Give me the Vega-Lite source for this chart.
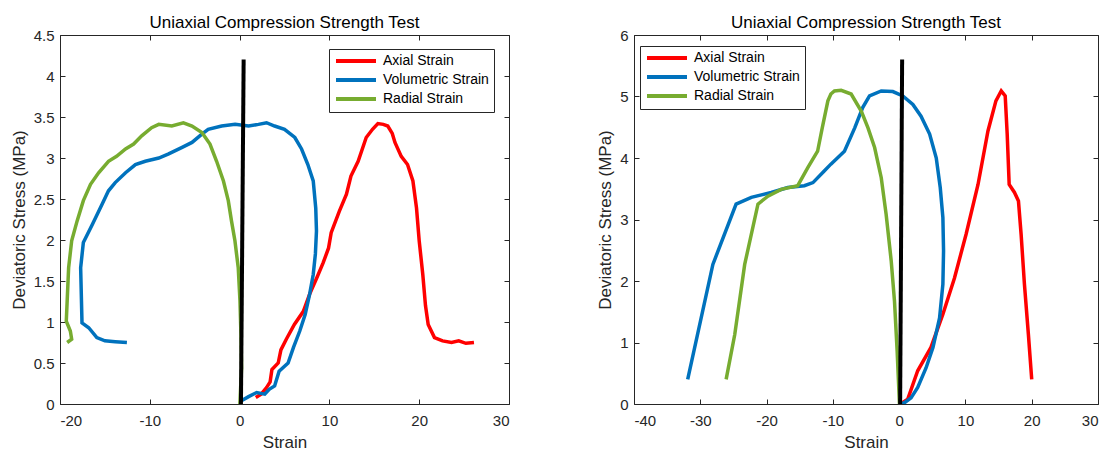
{
  "$schema": "https://vega.github.io/schema/vega-lite/v6.json",
  "padding": {"left": 9, "top": 13, "right": 0, "bottom": 0},
  "config": {
    "font": "Liberation Sans",
    "locale": {"number": {"decimal": ".", "thousands": ",", "grouping": [3], "currency": ["$", ""], "minus": "-"}},
    "view": {"stroke": "#262626", "strokeWidth": 1},
    "axis": {
      "grid": false, "domain": false, "tickSize": -5, "tickColor": "#262626", "tickWidth": 1,
      "labelColor": "#262626", "titleColor": "#262626", "labelFontSize": 15, "titleFontSize": 17,
      "titleFontWeight": "normal", "labelFont": "Liberation Sans", "titleFont": "Liberation Sans"
    },
    "axisX": {"labelPadding": 14, "titlePadding": 6},
    "axisY": {"labelPadding": 11},
    "title": {"fontSize": 17, "fontWeight": "normal", "color": "#000000", "offset": -4, "font": "Liberation Sans"},
    "legend": {
      "symbolType": "M-1,0H7", "symbolSize": 100, "symbolStrokeWidth": 4, "labelFontSize": 14,
      "labelColor": "#000000", "strokeColor": "#262626", "fillColor": "white", "padding": 5,
      "rowPadding": 3, "labelOffset": 35, "symbolOffset": 0, "cornerRadius": 0, "labelFont": "Liberation Sans"
    }
  },
  "datasets": {
    "left": [
      {"series": "Axial Strain", "i": 1, "strain": 1.8, "stress": 0.08},
      {"series": "Axial Strain", "i": 2, "strain": 2.4, "stress": 0.12},
      {"series": "Axial Strain", "i": 3, "strain": 3.0, "stress": 0.2},
      {"series": "Axial Strain", "i": 4, "strain": 3.4, "stress": 0.27},
      {"series": "Axial Strain", "i": 5, "strain": 3.6, "stress": 0.42},
      {"series": "Axial Strain", "i": 6, "strain": 4.3, "stress": 0.5},
      {"series": "Axial Strain", "i": 7, "strain": 4.6, "stress": 0.66},
      {"series": "Axial Strain", "i": 8, "strain": 5.2, "stress": 0.79},
      {"series": "Axial Strain", "i": 9, "strain": 6.1, "stress": 0.97},
      {"series": "Axial Strain", "i": 10, "strain": 7.1, "stress": 1.13},
      {"series": "Axial Strain", "i": 11, "strain": 7.8, "stress": 1.34},
      {"series": "Axial Strain", "i": 12, "strain": 8.6, "stress": 1.54},
      {"series": "Axial Strain", "i": 13, "strain": 9.3, "stress": 1.72},
      {"series": "Axial Strain", "i": 14, "strain": 9.9, "stress": 1.9},
      {"series": "Axial Strain", "i": 15, "strain": 10.2, "stress": 2.09},
      {"series": "Axial Strain", "i": 16, "strain": 11.1, "stress": 2.35},
      {"series": "Axial Strain", "i": 17, "strain": 11.9, "stress": 2.56},
      {"series": "Axial Strain", "i": 18, "strain": 12.4, "stress": 2.78},
      {"series": "Axial Strain", "i": 19, "strain": 13.2, "stress": 2.96},
      {"series": "Axial Strain", "i": 20, "strain": 14.1, "stress": 3.25},
      {"series": "Axial Strain", "i": 21, "strain": 14.8, "stress": 3.35},
      {"series": "Axial Strain", "i": 22, "strain": 15.4, "stress": 3.42},
      {"series": "Axial Strain", "i": 23, "strain": 16.0, "stress": 3.41},
      {"series": "Axial Strain", "i": 24, "strain": 16.5, "stress": 3.39},
      {"series": "Axial Strain", "i": 25, "strain": 17.0, "stress": 3.3},
      {"series": "Axial Strain", "i": 26, "strain": 17.3, "stress": 3.19},
      {"series": "Axial Strain", "i": 27, "strain": 18.0, "stress": 3.02},
      {"series": "Axial Strain", "i": 28, "strain": 18.7, "stress": 2.92},
      {"series": "Axial Strain", "i": 29, "strain": 19.3, "stress": 2.72},
      {"series": "Axial Strain", "i": 30, "strain": 19.7, "stress": 2.39},
      {"series": "Axial Strain", "i": 31, "strain": 20.0, "stress": 1.99},
      {"series": "Axial Strain", "i": 32, "strain": 20.4, "stress": 1.58},
      {"series": "Axial Strain", "i": 33, "strain": 20.7, "stress": 1.2},
      {"series": "Axial Strain", "i": 34, "strain": 21.0, "stress": 0.97},
      {"series": "Axial Strain", "i": 35, "strain": 21.7, "stress": 0.81},
      {"series": "Axial Strain", "i": 36, "strain": 22.6, "stress": 0.77},
      {"series": "Axial Strain", "i": 37, "strain": 23.6, "stress": 0.75},
      {"series": "Axial Strain", "i": 38, "strain": 24.4, "stress": 0.77},
      {"series": "Axial Strain", "i": 39, "strain": 25.2, "stress": 0.74},
      {"series": "Axial Strain", "i": 40, "strain": 26.1, "stress": 0.75},
      {"series": "Volumetric Strain", "i": 1, "strain": 0.2, "stress": 0.04},
      {"series": "Volumetric Strain", "i": 2, "strain": 1.0, "stress": 0.09},
      {"series": "Volumetric Strain", "i": 3, "strain": 1.9, "stress": 0.14},
      {"series": "Volumetric Strain", "i": 4, "strain": 2.8, "stress": 0.12},
      {"series": "Volumetric Strain", "i": 5, "strain": 3.3, "stress": 0.18},
      {"series": "Volumetric Strain", "i": 6, "strain": 3.9, "stress": 0.22},
      {"series": "Volumetric Strain", "i": 7, "strain": 4.4, "stress": 0.4},
      {"series": "Volumetric Strain", "i": 8, "strain": 5.4, "stress": 0.5},
      {"series": "Volumetric Strain", "i": 9, "strain": 6.0, "stress": 0.69},
      {"series": "Volumetric Strain", "i": 10, "strain": 6.7, "stress": 0.89},
      {"series": "Volumetric Strain", "i": 11, "strain": 7.3, "stress": 1.09},
      {"series": "Volumetric Strain", "i": 12, "strain": 7.8, "stress": 1.34},
      {"series": "Volumetric Strain", "i": 13, "strain": 8.2, "stress": 1.58},
      {"series": "Volumetric Strain", "i": 14, "strain": 8.44, "stress": 1.83},
      {"series": "Volumetric Strain", "i": 15, "strain": 8.56, "stress": 2.11},
      {"series": "Volumetric Strain", "i": 16, "strain": 8.48, "stress": 2.39},
      {"series": "Volumetric Strain", "i": 17, "strain": 8.2, "stress": 2.72},
      {"series": "Volumetric Strain", "i": 18, "strain": 7.6, "stress": 2.92},
      {"series": "Volumetric Strain", "i": 19, "strain": 6.9, "stress": 3.11},
      {"series": "Volumetric Strain", "i": 20, "strain": 6.15, "stress": 3.25},
      {"series": "Volumetric Strain", "i": 21, "strain": 5.0, "stress": 3.35},
      {"series": "Volumetric Strain", "i": 22, "strain": 3.9, "stress": 3.39},
      {"series": "Volumetric Strain", "i": 23, "strain": 3.0, "stress": 3.43},
      {"series": "Volumetric Strain", "i": 24, "strain": 2.1, "stress": 3.41},
      {"series": "Volumetric Strain", "i": 25, "strain": 1.0, "stress": 3.39},
      {"series": "Volumetric Strain", "i": 26, "strain": -0.5, "stress": 3.41},
      {"series": "Volumetric Strain", "i": 27, "strain": -2.0, "stress": 3.39},
      {"series": "Volumetric Strain", "i": 28, "strain": -3.5, "stress": 3.35},
      {"series": "Volumetric Strain", "i": 29, "strain": -4.2, "stress": 3.29},
      {"series": "Volumetric Strain", "i": 30, "strain": -5.3, "stress": 3.19},
      {"series": "Volumetric Strain", "i": 31, "strain": -6.4, "stress": 3.13},
      {"series": "Volumetric Strain", "i": 32, "strain": -7.9, "stress": 3.05},
      {"series": "Volumetric Strain", "i": 33, "strain": -9.0, "stress": 3.0},
      {"series": "Volumetric Strain", "i": 34, "strain": -10.5, "stress": 2.96},
      {"series": "Volumetric Strain", "i": 35, "strain": -11.6, "stress": 2.92},
      {"series": "Volumetric Strain", "i": 36, "strain": -12.7, "stress": 2.82},
      {"series": "Volumetric Strain", "i": 37, "strain": -13.85, "stress": 2.7},
      {"series": "Volumetric Strain", "i": 38, "strain": -14.6, "stress": 2.6},
      {"series": "Volumetric Strain", "i": 39, "strain": -15.3, "stress": 2.44},
      {"series": "Volumetric Strain", "i": 40, "strain": -16.4, "stress": 2.19},
      {"series": "Volumetric Strain", "i": 41, "strain": -17.4, "stress": 1.97},
      {"series": "Volumetric Strain", "i": 42, "strain": -17.7, "stress": 1.66},
      {"series": "Volumetric Strain", "i": 43, "strain": -17.55, "stress": 0.99},
      {"series": "Volumetric Strain", "i": 44, "strain": -16.8, "stress": 0.93},
      {"series": "Volumetric Strain", "i": 45, "strain": -15.9, "stress": 0.81},
      {"series": "Volumetric Strain", "i": 46, "strain": -15.0, "stress": 0.77},
      {"series": "Volumetric Strain", "i": 47, "strain": -13.85, "stress": 0.76},
      {"series": "Volumetric Strain", "i": 48, "strain": -12.55, "stress": 0.75},
      {"series": "Radial Strain", "i": 1, "strain": 0.03, "stress": 0.0},
      {"series": "Radial Strain", "i": 2, "strain": 0.22, "stress": 0.44},
      {"series": "Radial Strain", "i": 3, "strain": 0.15, "stress": 0.85},
      {"series": "Radial Strain", "i": 4, "strain": 0.04, "stress": 1.26},
      {"series": "Radial Strain", "i": 5, "strain": -0.15, "stress": 1.66},
      {"series": "Radial Strain", "i": 6, "strain": -0.52, "stress": 1.99},
      {"series": "Radial Strain", "i": 7, "strain": -0.9, "stress": 2.23},
      {"series": "Radial Strain", "i": 8, "strain": -1.26, "stress": 2.48},
      {"series": "Radial Strain", "i": 9, "strain": -1.8, "stress": 2.72},
      {"series": "Radial Strain", "i": 10, "strain": -2.56, "stress": 2.96},
      {"series": "Radial Strain", "i": 11, "strain": -3.3, "stress": 3.17},
      {"series": "Radial Strain", "i": 12, "strain": -4.2, "stress": 3.31},
      {"series": "Radial Strain", "i": 13, "strain": -5.3, "stress": 3.39},
      {"series": "Radial Strain", "i": 14, "strain": -6.26, "stress": 3.43},
      {"series": "Radial Strain", "i": 15, "strain": -7.55, "stress": 3.39},
      {"series": "Radial Strain", "i": 16, "strain": -9.0, "stress": 3.41},
      {"series": "Radial Strain", "i": 17, "strain": -9.8, "stress": 3.37},
      {"series": "Radial Strain", "i": 18, "strain": -10.9, "stress": 3.27},
      {"series": "Radial Strain", "i": 19, "strain": -11.8, "stress": 3.17},
      {"series": "Radial Strain", "i": 20, "strain": -12.7, "stress": 3.11},
      {"series": "Radial Strain", "i": 21, "strain": -13.7, "stress": 3.02},
      {"series": "Radial Strain", "i": 22, "strain": -14.6, "stress": 2.96},
      {"series": "Radial Strain", "i": 23, "strain": -15.7, "stress": 2.82},
      {"series": "Radial Strain", "i": 24, "strain": -16.6, "stress": 2.68},
      {"series": "Radial Strain", "i": 25, "strain": -17.4, "stress": 2.48},
      {"series": "Radial Strain", "i": 26, "strain": -18.1, "stress": 2.23},
      {"series": "Radial Strain", "i": 27, "strain": -18.7, "stress": 1.99},
      {"series": "Radial Strain", "i": 28, "strain": -19.04, "stress": 1.66},
      {"series": "Radial Strain", "i": 29, "strain": -19.2, "stress": 1.26},
      {"series": "Radial Strain", "i": 30, "strain": -19.3, "stress": 1.01},
      {"series": "Radial Strain", "i": 31, "strain": -18.85, "stress": 0.89},
      {"series": "Radial Strain", "i": 32, "strain": -18.7, "stress": 0.79},
      {"series": "Radial Strain", "i": 33, "strain": -19.2, "stress": 0.75}
    ],
    "leftRef": [
      {"i": 1, "strain": 0.15, "stress": 0.0},
      {"i": 2, "strain": 0.45, "stress": 4.2}
    ],
    "right": [
      {"series": "Axial Strain", "i": 1, "strain": 0.2, "stress": 0.0},
      {"series": "Axial Strain", "i": 2, "strain": 1.3, "stress": 0.08},
      {"series": "Axial Strain", "i": 3, "strain": 2.8, "stress": 0.54},
      {"series": "Axial Strain", "i": 4, "strain": 4.8, "stress": 0.92},
      {"series": "Axial Strain", "i": 5, "strain": 6.6, "stress": 1.46},
      {"series": "Axial Strain", "i": 6, "strain": 8.35, "stress": 2.05},
      {"series": "Axial Strain", "i": 7, "strain": 10.1, "stress": 2.76},
      {"series": "Axial Strain", "i": 8, "strain": 11.9, "stress": 3.57},
      {"series": "Axial Strain", "i": 9, "strain": 13.4, "stress": 4.44},
      {"series": "Axial Strain", "i": 10, "strain": 14.6, "stress": 4.93},
      {"series": "Axial Strain", "i": 11, "strain": 15.4, "stress": 5.09},
      {"series": "Axial Strain", "i": 12, "strain": 16.0, "stress": 5.01},
      {"series": "Axial Strain", "i": 13, "strain": 16.3, "stress": 4.39},
      {"series": "Axial Strain", "i": 14, "strain": 16.6, "stress": 3.57},
      {"series": "Axial Strain", "i": 15, "strain": 17.4, "stress": 3.44},
      {"series": "Axial Strain", "i": 16, "strain": 18.0, "stress": 3.3},
      {"series": "Axial Strain", "i": 17, "strain": 18.4, "stress": 2.76},
      {"series": "Axial Strain", "i": 18, "strain": 18.9, "stress": 1.95},
      {"series": "Axial Strain", "i": 19, "strain": 19.5, "stress": 1.13},
      {"series": "Axial Strain", "i": 20, "strain": 20.0, "stress": 0.4},
      {"series": "Volumetric Strain", "i": 1, "strain": 0.15, "stress": 0.0},
      {"series": "Volumetric Strain", "i": 2, "strain": 0.8, "stress": 0.02},
      {"series": "Volumetric Strain", "i": 3, "strain": 1.8, "stress": 0.1},
      {"series": "Volumetric Strain", "i": 4, "strain": 2.8, "stress": 0.27},
      {"series": "Volumetric Strain", "i": 5, "strain": 4.07, "stress": 0.59},
      {"series": "Volumetric Strain", "i": 6, "strain": 5.1, "stress": 0.92},
      {"series": "Volumetric Strain", "i": 7, "strain": 6.1, "stress": 1.4},
      {"series": "Volumetric Strain", "i": 8, "strain": 6.6, "stress": 1.95},
      {"series": "Volumetric Strain", "i": 9, "strain": 6.7, "stress": 2.49},
      {"series": "Volumetric Strain", "i": 10, "strain": 6.6, "stress": 3.03},
      {"series": "Volumetric Strain", "i": 11, "strain": 6.2, "stress": 3.52},
      {"series": "Volumetric Strain", "i": 12, "strain": 5.6, "stress": 4.0},
      {"series": "Volumetric Strain", "i": 13, "strain": 4.6, "stress": 4.39},
      {"series": "Volumetric Strain", "i": 14, "strain": 3.3, "stress": 4.68},
      {"series": "Volumetric Strain", "i": 15, "strain": 2.07, "stress": 4.87},
      {"series": "Volumetric Strain", "i": 16, "strain": 0.55, "stress": 5.01},
      {"series": "Volumetric Strain", "i": 17, "strain": -0.95, "stress": 5.08},
      {"series": "Volumetric Strain", "i": 18, "strain": -2.7, "stress": 5.09},
      {"series": "Volumetric Strain", "i": 19, "strain": -4.47, "stress": 5.01},
      {"series": "Volumetric Strain", "i": 20, "strain": -5.5, "stress": 4.82},
      {"series": "Volumetric Strain", "i": 21, "strain": -6.7, "stress": 4.49},
      {"series": "Volumetric Strain", "i": 22, "strain": -8.25, "stress": 4.11},
      {"series": "Volumetric Strain", "i": 23, "strain": -10.3, "stress": 3.9},
      {"series": "Volumetric Strain", "i": 24, "strain": -11.3, "stress": 3.79},
      {"series": "Volumetric Strain", "i": 25, "strain": -13.0, "stress": 3.6},
      {"series": "Volumetric Strain", "i": 26, "strain": -14.3, "stress": 3.55},
      {"series": "Volumetric Strain", "i": 27, "strain": -16.8, "stress": 3.52},
      {"series": "Volumetric Strain", "i": 28, "strain": -19.3, "stress": 3.44},
      {"series": "Volumetric Strain", "i": 29, "strain": -22.3, "stress": 3.36},
      {"series": "Volumetric Strain", "i": 30, "strain": -24.6, "stress": 3.25},
      {"series": "Volumetric Strain", "i": 31, "strain": -28.1, "stress": 2.27},
      {"series": "Volumetric Strain", "i": 32, "strain": -31.9, "stress": 0.4},
      {"series": "Radial Strain", "i": 1, "strain": 0.05, "stress": 0.0},
      {"series": "Radial Strain", "i": 2, "strain": -0.3, "stress": 0.86},
      {"series": "Radial Strain", "i": 3, "strain": -0.7, "stress": 1.67},
      {"series": "Radial Strain", "i": 4, "strain": -1.2, "stress": 2.33},
      {"series": "Radial Strain", "i": 5, "strain": -1.96, "stress": 3.08},
      {"series": "Radial Strain", "i": 6, "strain": -2.7, "stress": 3.68},
      {"series": "Radial Strain", "i": 7, "strain": -3.7, "stress": 4.17},
      {"series": "Radial Strain", "i": 8, "strain": -4.7, "stress": 4.49},
      {"series": "Radial Strain", "i": 9, "strain": -5.7, "stress": 4.76},
      {"series": "Radial Strain", "i": 10, "strain": -7.24, "stress": 5.04},
      {"series": "Radial Strain", "i": 11, "strain": -8.75, "stress": 5.1},
      {"series": "Radial Strain", "i": 12, "strain": -9.76, "stress": 5.09},
      {"series": "Radial Strain", "i": 13, "strain": -10.3, "stress": 5.04},
      {"series": "Radial Strain", "i": 14, "strain": -10.75, "stress": 4.93},
      {"series": "Radial Strain", "i": 15, "strain": -11.6, "stress": 4.49},
      {"series": "Radial Strain", "i": 16, "strain": -12.3, "stress": 4.11},
      {"series": "Radial Strain", "i": 17, "strain": -13.8, "stress": 3.84},
      {"series": "Radial Strain", "i": 18, "strain": -15.3, "stress": 3.55},
      {"series": "Radial Strain", "i": 19, "strain": -17.8, "stress": 3.49},
      {"series": "Radial Strain", "i": 20, "strain": -19.8, "stress": 3.38},
      {"series": "Radial Strain", "i": 21, "strain": -21.3, "stress": 3.25},
      {"series": "Radial Strain", "i": 22, "strain": -23.3, "stress": 2.27},
      {"series": "Radial Strain", "i": 23, "strain": -24.8, "stress": 1.13},
      {"series": "Radial Strain", "i": 24, "strain": -26.1, "stress": 0.4}
    ],
    "rightRef": [
      {"i": 1, "strain": 0.15, "stress": 0.0},
      {"i": 2, "strain": 0.45, "stress": 5.6}
    ]
  },
  "hconcat": [
    {
      "width": 449,
      "height": 369,
      "title": "Uniaxial Compression Strength Test",
      "layer": [
        {
          "data": {"name": "left"},
          "mark": {"type": "line", "strokeWidth": 3.5, "clip": true},
          "encoding": {
            "x": {"field": "strain", "type": "quantitative", "scale": {"domain": [-20, 30], "nice": false, "zero": false},
                  "axis": {"title": "Strain", "values": [-20, -10, 0, 10, 20, 30], "format": "d"}},
            "y": {"field": "stress", "type": "quantitative", "scale": {"domain": [0, 4.5], "nice": false},
                  "axis": {"title": "Deviatoric Stress (MPa)", "values": [0, 0.5, 1, 1.5, 2, 2.5, 3, 3.5, 4, 4.5], "format": "~g", "minExtent": 27, "maxExtent": 27, "titlePadding": 5}},
            "color": {"field": "series", "type": "nominal",
                      "scale": {"domain": ["Axial Strain", "Volumetric Strain", "Radial Strain"], "range": ["#FF0000", "#0072BD", "#77AC30"]},
                      "legend": {"orient": "none", "legendX": 269, "legendY": 14, "title": null}},
            "order": {"field": "i", "type": "quantitative"}
          }
        },
        {
          "data": {"name": "leftRef"},
          "mark": {"type": "line", "color": "#000000", "strokeWidth": 4},
          "encoding": {
            "x": {"field": "strain", "type": "quantitative", "scale": {"domain": [-20, 30], "nice": false, "zero": false},
                  "axis": {"orient": "top", "labels": false, "title": null, "values": [-20, -10, 0, 10, 20, 30], "minExtent": 0, "maxExtent": 0}},
            "y": {"field": "stress", "type": "quantitative", "scale": {"domain": [0, 4.5], "nice": false},
                  "axis": {"orient": "right", "labels": false, "title": null, "values": [0, 0.5, 1, 1.5, 2, 2.5, 3, 3.5, 4, 4.5], "minExtent": 0, "maxExtent": 0}},
            "order": {"field": "i", "type": "quantitative"}
          }
        }
      ],
      "resolve": {"scale": {"x": "independent", "y": "independent"}}
    },
    {
      "width": 464,
      "height": 369,
      "title": "Uniaxial Compression Strength Test",
      "layer": [
        {
          "data": {"name": "right"},
          "mark": {"type": "line", "strokeWidth": 3.5, "clip": true},
          "encoding": {
            "x": {"field": "strain", "type": "quantitative", "scale": {"domain": [-40, 30], "nice": false, "zero": false},
                  "axis": {"title": "Strain", "values": [-40, -30, -20, -10, 0, 10, 20, 30], "format": "d"}},
            "y": {"field": "stress", "type": "quantitative", "scale": {"domain": [0, 6], "nice": false},
                  "axis": {"title": "Deviatoric Stress (MPa)", "values": [0, 1, 2, 3, 4, 5, 6], "format": "d", "minExtent": 15, "maxExtent": 15, "titlePadding": 5}},
            "color": {"field": "series", "type": "nominal",
                      "scale": {"domain": ["Axial Strain", "Volumetric Strain", "Radial Strain"], "range": ["#FF0000", "#0072BD", "#77AC30"]},
                      "legend": {"orient": "none", "legendX": 6, "legendY": 11, "title": null}},
            "order": {"field": "i", "type": "quantitative"}
          }
        },
        {
          "data": {"name": "rightRef"},
          "mark": {"type": "line", "color": "#000000", "strokeWidth": 4},
          "encoding": {
            "x": {"field": "strain", "type": "quantitative", "scale": {"domain": [-40, 30], "nice": false, "zero": false},
                  "axis": {"orient": "top", "labels": false, "title": null, "values": [-40, -30, -20, -10, 0, 10, 20, 30], "minExtent": 0, "maxExtent": 0}},
            "y": {"field": "stress", "type": "quantitative", "scale": {"domain": [0, 6], "nice": false},
                  "axis": {"orient": "right", "labels": false, "title": null, "values": [0, 1, 2, 3, 4, 5, 6], "minExtent": 0, "maxExtent": 0}},
            "order": {"field": "i", "type": "quantitative"}
          }
        }
      ],
      "resolve": {"scale": {"x": "independent", "y": "independent"}}
    }
  ],
  "spacing": 85,
  "resolve": {"scale": {"color": "independent"}, "legend": {"color": "independent"}}
}
